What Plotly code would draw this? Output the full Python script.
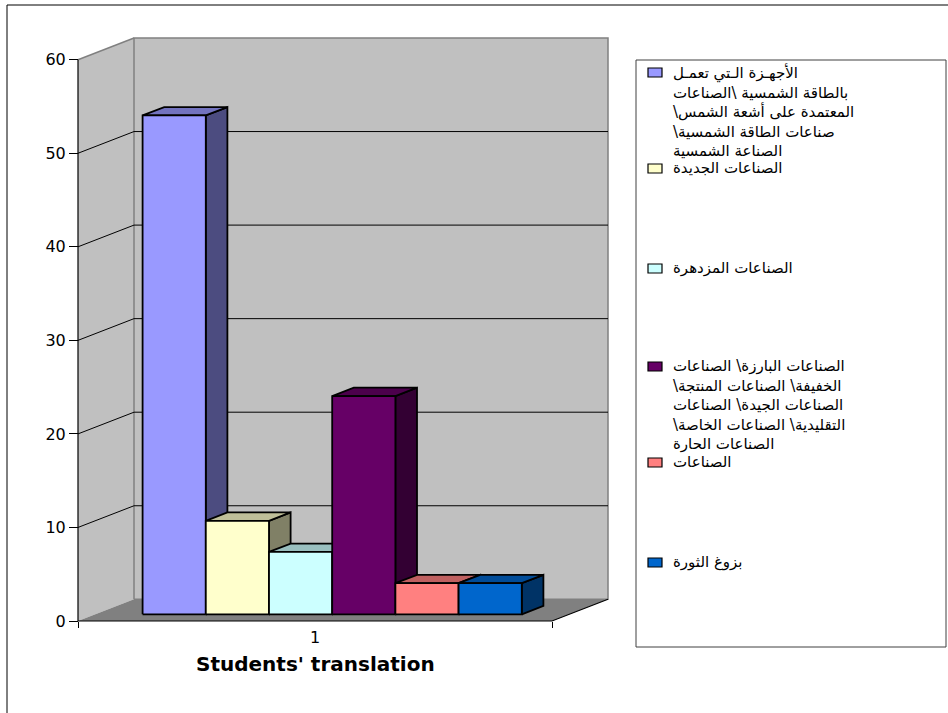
import plotly.graph_objects as go

# ---- data -------------------------------------------------------------
category_labels = ["1"]
series_names = [
    ["الأجهـزة الـتي تعمـل", "بالطاقة الشمسية \\الصناعات", "المعتمدة على أشعة الشمس\\",
     "صناعات الطاقة الشمسية\\", "الصناعة الشمسية"],
    ["الصناعات الجديدة"],
    ["الصناعات المزدهرة"],
    ["الصناعات البارزة\\ الصناعات", "الخفيفة\\ الصناعات المنتجة\\", "الصناعات الجيدة\\ الصناعات",
     "التقليدية\\ الصناعات الخاصة\\", "الصناعات الحارة"],
    ["الصناعات"],
    ["بزوغ الثورة"],
]
series_values = [53.33, 10.0, 6.67, 23.33, 3.33, 3.33]
series_colors = ["#9999FF", "#FFFFCC", "#CCFFFF", "#660066", "#FF8080", "#0066CC"]
y_ticks = [0, 10, 20, 30, 40, 50, 60]
x_title = "Students' translation"

# ---- geometry of the oblique 3-D box (data units) ----------------------
Y_MAX = 60
GAP = 0.75            # half of a 150 % gap width, in bar widths
BAR_W = 1.0
N = len(series_values)
FLOOR_W = 2 * GAP + N * BAR_W
DX, DY = 0.886, 2.32  # projection of the full depth of the box
BAR_FRONT, BAR_BACK = 0.307, 0.693

# plot-area sizing: pixels per unit on each axis
W, H = 948, 713
ML, MR, MT, MB = 74, 333, 32, 88
PX_X = 63.2
PX_Y = 9.355
plot_w = W - ML - MR
plot_h = H - MT - MB
x_lo = -4 / PX_X
x_hi = x_lo + plot_w / PX_X
y_lo = -4 / PX_Y
y_hi = y_lo + plot_h / PX_Y


def proj(x, v, d):
    return x + d * DX, v + d * DY


def shade(hex_color, k):
    h = hex_color.lstrip("#")
    r, g, b = (int(h[i:i + 2], 16) for i in (0, 2, 4))
    return "#%02X%02X%02X" % (round(r * k), round(g * k), round(b * k))


def poly(points, fill, line_color, line_width):
    xs = [p[0] for p in points] + [points[0][0]]
    ys = [p[1] for p in points] + [points[0][1]]
    return go.Scatter(x=xs, y=ys, mode="lines", fill="toself", fillcolor=fill,
                      line=dict(color=line_color, width=line_width),
                      hoverinfo="skip", showlegend=False)


def seg(xs, ys, color, width):
    return go.Scatter(x=xs, y=ys, mode="lines", line=dict(color=color, width=width),
                      hoverinfo="skip", showlegend=False)


fig = go.Figure()

# walls and floor
fig.add_trace(poly([(0, 0), proj(0, 0, 1), proj(0, Y_MAX, 1), (0, Y_MAX)],
                   "#C0C0C0", "rgba(0,0,0,0)", 0))
fig.add_trace(poly([proj(0, 0, 1), proj(FLOOR_W, 0, 1), proj(FLOOR_W, Y_MAX, 1), proj(0, Y_MAX, 1)],
                   "#C0C0C0", "#808080", 1.5))
fig.add_trace(seg([0, proj(0, Y_MAX, 1)[0]], [Y_MAX, proj(0, Y_MAX, 1)[1]], "#808080", 1.5))
fig.add_trace(poly([(0, 0), (FLOOR_W, 0), proj(FLOOR_W, 0, 1), proj(0, 0, 1)],
                   "#808080", "rgba(0,0,0,0)", 0))

# gridlines on the side and back walls
gx, gy = [], []
for v in y_ticks[1:-1]:
    a = proj(0, v, 1)
    b = proj(FLOOR_W, v, 1)
    gx += [0, a[0], b[0], None]
    gy += [v, a[1], b[1], None]
fig.add_trace(seg(gx, gy, "#000000", 1))

# axis edges
fig.add_trace(seg([0, 0], [0, Y_MAX], "#000000", 1.2))
fig.add_trace(seg([0, FLOOR_W, proj(FLOOR_W, 0, 1)[0]], [0, 0, proj(FLOOR_W, 0, 1)[1]], "#000000", 1.2))

# columns, drawn left to right so each hides the side of the previous one
for i, (val, col) in enumerate(zip(series_values, series_colors)):
    x0 = GAP + i * BAR_W
    x1 = x0 + BAR_W
    side = [proj(x1, 0, BAR_FRONT), proj(x1, 0, BAR_BACK), proj(x1, val, BAR_BACK), proj(x1, val, BAR_FRONT)]
    top = [proj(x0, val, BAR_FRONT), proj(x1, val, BAR_FRONT), proj(x1, val, BAR_BACK), proj(x0, val, BAR_BACK)]
    front = [proj(x0, 0, BAR_FRONT), proj(x1, 0, BAR_FRONT), proj(x1, val, BAR_FRONT), proj(x0, val, BAR_FRONT)]
    fig.add_trace(poly(side, shade(col, 0.5), "#000000", 1.8))
    fig.add_trace(poly(top, shade(col, 0.75), "#000000", 1.8))
    fig.add_trace(poly(front, col, "#000000", 1.8))


# ---- legend box (drawn as layout shapes / annotations) -----------------
def px_x(p):
    return (p - ML) / plot_w


def px_y(p):
    return (H - MB - p) / plot_h


shapes = [
    dict(type="rect", xref="paper", yref="paper", x0=px_x(7), x1=px_x(960), y0=px_y(5), y1=px_y(720),
         line=dict(color="#000000", width=1), fillcolor="rgba(0,0,0,0)", layer="below"),
    dict(type="rect", xref="paper", yref="paper", x0=px_x(636), x1=px_x(946), y0=px_y(60), y1=px_y(647),
         line=dict(color="#404040", width=1), fillcolor="#FFFFFF", layer="below"),
]
annotations = []
legend_rows = [72, 168, 268, 366, 462, 562]
RLM = "\u200f"
for lines, col, row in zip(series_names, series_colors, legend_rows):
    shapes.append(dict(type="rect", xref="paper", yref="paper",
                       x0=px_x(648), x1=px_x(662), y0=px_y(row + 5), y1=px_y(row - 4),
                       line=dict(color="#000000", width=1.2), fillcolor=col))
    text = "<br>".join(RLM + ln + RLM for ln in lines)
    annotations.append(dict(xref="paper", yref="paper", x=px_x(671), y=px_y(row - 11),
                            xanchor="left", yanchor="top", align="left", showarrow=False,
                            text=text, font=dict(family="DejaVu Sans", size=15, color="#000000")))

# axis title centred under the floor of the box
annotations.append(dict(xref="x", yref="paper", x=FLOOR_W / 2, y=px_y(664),
                        xanchor="center", yanchor="middle", showarrow=False, text=x_title,
                        font=dict(family="DejaVu Sans", size=20, color="#000000", weight="bold")))

fig.update_layout(
    width=W, height=H,
    margin=dict(l=ML, r=MR, t=MT, b=MB, pad=0),
    paper_bgcolor="#FFFFFF", plot_bgcolor="rgba(0,0,0,0)",
    showlegend=False,
    shapes=shapes,
    annotations=annotations,
    xaxis=dict(range=[x_lo, x_hi], anchor="free", position=(0 - y_lo) / (y_hi - y_lo),
               showgrid=False, zeroline=False, showline=False,
               tickmode="array", tickvals=[FLOOR_W / 2], ticktext=category_labels, ticks="",
               ticklabelstandoff=5,
               minor=dict(tickmode="array", tickvals=[0, FLOOR_W], ticks="outside", ticklen=6,
                          tickcolor="#000000", tickwidth=1, showgrid=False),
               tickfont=dict(family="DejaVu Sans", size=16, color="#000000"),
               fixedrange=True),
    yaxis=dict(range=[y_lo, y_hi], anchor="free", position=(0 - x_lo) / (x_hi - x_lo),
               showgrid=False, zeroline=False, showline=False,
               tickmode="array", tickvals=y_ticks, ticks="outside", ticklen=9,
               tickcolor="#000000", tickwidth=1,
               tickfont=dict(family="DejaVu Sans", size=16, color="#000000"),
               fixedrange=True),
)

fig.write_html("out.html")
